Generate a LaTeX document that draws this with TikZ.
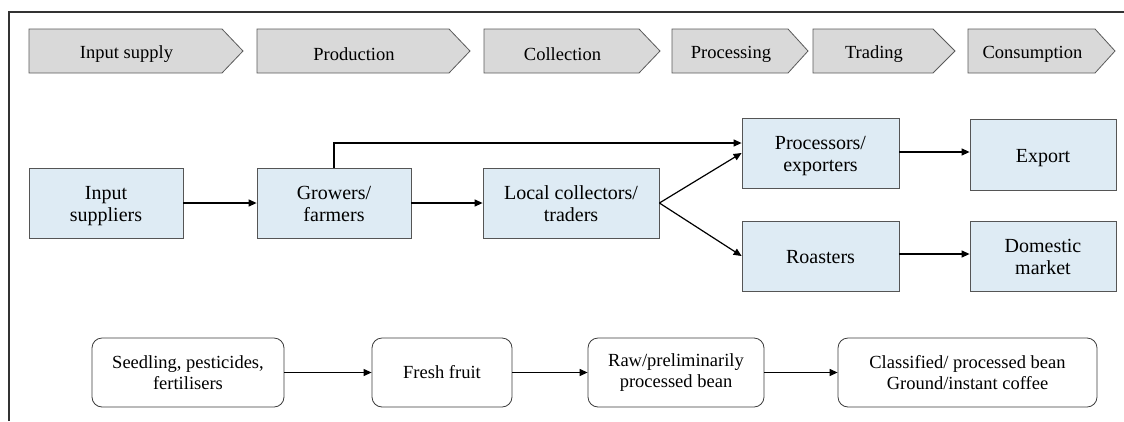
\documentclass[tikz,border=0pt]{standalone}
\usepackage{fontspec}
\setmainfont{Liberation Serif}
\newfontfamily\chainfont{Liberation Serif}
\usetikzlibrary{arrows.meta}

\definecolor{stagefill}{RGB}{217,217,217}
\definecolor{stageline}{RGB}{90,90,90}
\definecolor{actorfill}{RGB}{222,235,244}
\definecolor{actorline}{RGB}{85,85,85}
\definecolor{productline}{RGB}{60,60,60}
\definecolor{frameline}{RGB}{50,50,50}

% multi-line label set a little below the box centre
\newcommand\dropped[1]{\raisebox{-3.5pt}[\height][\depth]{\begin{tabular}{@{}c@{}}#1\end{tabular}}}

\tikzset{
  stage/.style={draw=stageline, fill=stagefill, line width=0.8pt},
  stagelabel/.style={inner sep=0pt, font=\chainfont\fontsize{18.5}{20}\selectfont},
  actor/.style={draw=actorline, fill=actorfill, line width=0.8pt,
    inner sep=0pt, font=\chainfont\fontsize{20}{22}\selectfont},
  product/.style={draw=productline, fill=white, line width=0.8pt,
    rounded corners=10pt, align=center, inner sep=0pt,
    minimum height=69pt, font=\chainfont\fontsize{18.5}{21}\selectfont},
  flow/.style={-{Triangle[length=8pt,width=7pt]}, line width=1.2pt},
}

% chevron of the value-chain stage bar: name, left, body end, tip, label
\newcommand\stagechev[5]{%
  \draw[stage] (#2,29) -- (#3,29) -- (#4,51) -- (#3,73) -- (#2,73) -- cycle;
  \node[stagelabel] (#1) at ({(#2+#3)/2+1},54) {#5};}

\begin{document}
\begin{tikzpicture}[x=1pt, y=-1pt]
\useasboundingbox (0,0) rectangle (1124,421);

% open frame: top and left edges
\draw[frameline, line width=1.3pt] (9,421) -- (9,12) -- (1124,12);

% stage bar
\stagechev{sInput}{29}{222}{243}{Input supply}
\stagechev{sProd}{257}{449}{470}{Production}
\stagechev{sColl}{484}{639}{660}{Collection}
\stagechev{sProc}{672}{788}{808}{Processing}
\stagechev{sTrad}{813}{933}{955}{Trading}
\stagechev{sCons}{968}{1095}{1115}{Consumption}

% actors
\node[actor, minimum width=154pt, minimum height=70pt] (inp)   at (106,203)   {\dropped{Input\\suppliers}};
\node[actor, minimum width=154pt, minimum height=70pt] (grow)  at (334,203)   {\dropped{Growers/\\farmers}};
\node[actor, minimum width=176pt, minimum height=70pt] (loc)   at (571,203)   {\dropped{Local collectors/\\traders}};
\node[actor, minimum width=157pt, minimum height=70pt] (proc)  at (820.5,153) {\dropped{Processors/\\exporters}};
\node[actor, minimum width=146pt, minimum height=71pt] (exp)   at (1043,154.5) {\dropped{Export}};
\node[actor, minimum width=157pt, minimum height=70pt] (roast) at (820.5,256) {\dropped{Roasters}};
\node[actor, minimum width=146pt, minimum height=70pt] (dom)   at (1043,256)  {\dropped{Domestic\\market}};

\draw[flow] (inp) -- (grow);
\draw[flow] (grow) -- (loc);
\draw[flow] (grow.north) |- ([yshift=10pt]proc.west);
\draw[flow] (loc.east) -- (proc.west);
\draw[flow] (loc.east) -- (roast.west);
\draw[flow] ([yshift=1pt]proc.east) -- ([yshift=1pt]proc.east -| exp.west);
\draw[flow] ([yshift=2pt]roast.east) -- ([yshift=2pt]roast.east -| dom.west);

% products along the chain
\node[product, minimum width=192pt] (seed)  at (188,372.5)   {Seedling, pesticides,\\fertilisers};
\node[product, minimum width=140pt] (fresh) at (442,372.5)   {Fresh fruit};
\node[product, minimum width=176pt] (raw)   at (676,372.5)   {Raw/preliminarily\\processed bean};
\node[product, minimum width=259pt] (cls)   at (967.5,372.5) {Classified/ processed bean\\Ground/instant coffee};

\draw[flow] (seed) -- (fresh);
\draw[flow] (fresh) -- (raw);
\draw[flow] (raw) -- (cls);
\end{tikzpicture}
\end{document}
